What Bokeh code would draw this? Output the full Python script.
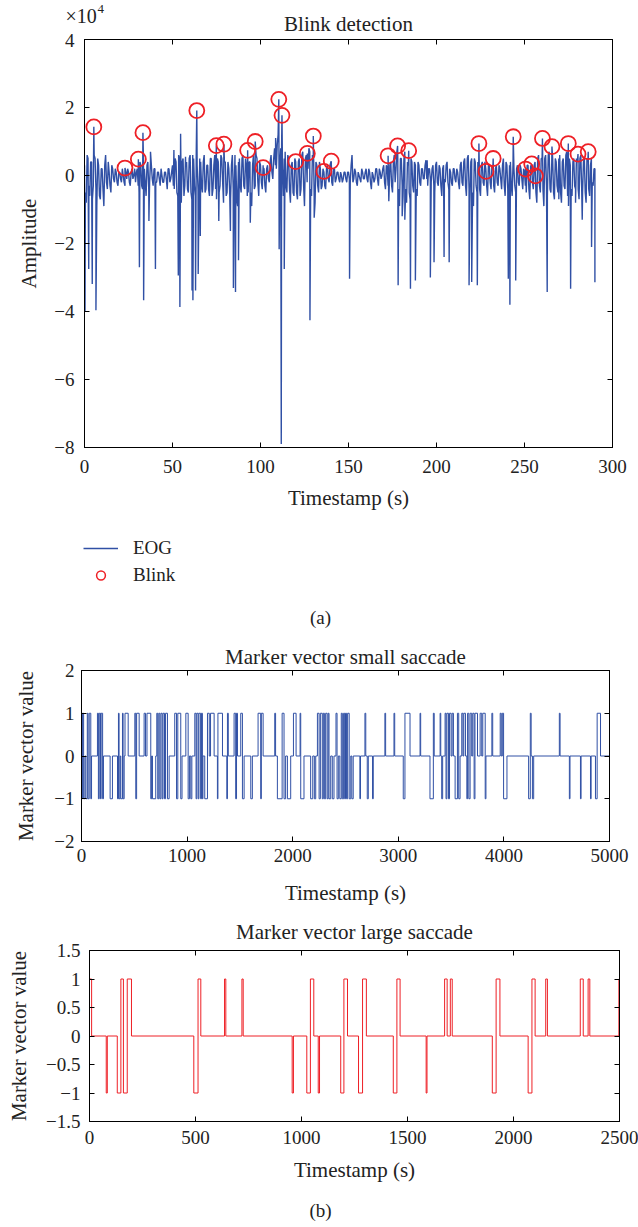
import numpy as np
from bokeh.plotting import figure
from bokeh.models import (Label, Legend, LegendItem, LinearAxis, FixedTicker,
                          Range1d, CustomJSTickFormatter)
from bokeh.layouts import column, row
from bokeh.embed import file_html
from bokeh.resources import INLINE

FONT = "Liberation Serif"
BLUE = "#3050A5"
RED = "#EE2026"
TXT = "#222222"
W = 638

# ---------------- (a) Blink detection (amplitude in units of 1e4) ----------------
# EOG read at whole seconds (t = 0 .. 290 s)
eog_base = [
    0.3, -0.8, 0.5, -0.6, 0.4, -0.3, 0.5, -0.9, 0.3, -0.7,
    0.2, -0.9, 0.6, -0.4, 0.1, -0.5, 0.2, -0.2, 0.1, -0.3,
    0.1, -0.2, 0.0, -0.3, -0.1, 0.1, -0.3, 0.2, 0.0, -0.2,
    0.2, -0.5, 0.3, -0.4, 0.2, -0.6, 0.4, -0.2, 0.3, -0.3,
    0.2, -0.2, 0.1, -0.3, 0.0, -0.2, 0.1, -0.4, 0.2, -0.1,
    0.3, -0.4, 0.4, -0.6, 0.5, -0.8, 0.5, -0.3, 0.4, -0.5,
    0.6, -0.7, 0.5, -0.6, 0.3, -0.9, 0.4, -0.5, 0.6, -0.4,
    0.3, -0.6, 0.5, -0.4, 0.6, -0.7, 0.4, -0.3, 0.5, -0.8,
    0.4, -0.5, 0.2, -0.7, 0.6, -0.6, 0.3, -0.9, 0.5, -0.5,
    0.6, -0.4, 0.3, -0.5, 0.4, -0.9, 0.6, -0.3, 0.5, -0.6,
    0.3, -0.4, 0.2, -0.5, 0.3, -0.2, 0.6, -0.1, 0.8, 0.2,
    1.2, 0.3, 0.9, -0.6, 0.7, -0.5, 0.5, -0.8, 0.4, -0.6,
    0.4, -0.7, 0.5, -0.4, 0.7, -0.9, 0.6, 0.2, 0.7, -0.6,
    0.5, -0.8, 0.3, -0.5, 0.2, -0.3, 0.1, -0.4, 0.3, -0.2,
    0.4, -0.3, 0.2, -0.1, 0.1, -0.2, 0.0, -0.1, 0.1, -0.2,
    0.1, -0.2, 0.6, -0.1, 0.1, -0.3, 0.0, -0.2, 0.1, -0.1,
    0.2, -0.2, 0.1, -0.4, 0.0, -0.1, 0.2, -0.3, 0.1, 0.0,
    0.3, -0.4, 0.2, -0.6, 0.4, -0.5, 0.6, 0.2, 0.5, -0.9,
    0.5, -0.6, 0.7, -0.8, 0.3, -0.7, 0.4, -0.5, 0.3, -0.6,
    0.3, -0.3, 0.2, -0.1, 0.45, -0.3, 0.2, -0.2, 0.3, -0.5,
    0.4, -0.3, 0.2, -0.6, 0.3, -0.2, 0.4, -0.4, 0.1, -0.3,
    0.2, -0.2, 0.1, -0.4, 0.4, -0.3, 0.5, -0.6, 0.6, -0.8,
    0.5, -0.9, 0.4, -0.5, 0.3, -0.6, 0.4, -0.3, 0.2, -0.6,
    0.3, -0.4, 0.2, -0.5, 0.3, -0.3, 0.2, -0.4, 0.5, -0.6,
    0.3, -0.7, 0.4, -0.6, 0.2, -0.5, 0.3, -0.3, 0.2, -0.4,
    0.1, -0.5, 0.3, -0.7, 0.2, -0.4, 0.4, -0.8, 0.6, -0.5,
    0.5, -0.9, 0.6, -0.6, 0.7, -0.5, 0.5, -0.7, 0.4, -0.5,
    0.6, -0.8, 0.5, -0.4, 0.7, -0.9, 0.3, -0.6, 0.5, -0.4,
    0.4, -0.7, 0.6, -0.5, 0.5, -0.8, 0.4, -0.6, 0.5, -0.3,
    0.2,
]
# EOG read at half seconds (t = 0.5 .. 289.5 s)
eog_mid = [
    -0.5, 0.6, -0.3, 0.4, -0.7, 0.6, -0.4, 0.5, -0.6, 0.2,
    -0.4, 0.3, -0.2, 0.4, -0.3, 0.3, -0.1, 0.2, -0.2, 0.1,
    -0.1, 0.2, -0.2, 0.1, 0.2, -0.2, 0.1, -0.1, 0.2, 0.1,
    -0.3, 0.4, -0.3, 0.5, -0.2, 0.3, -0.4, 0.4, -0.1, 0.2,
    -0.2, 0.1, -0.1, 0.2, -0.2, 0.1, -0.1, 0.2, -0.2, 0.1,
    -0.3, 0.5, -0.5, 0.6, -0.4, 0.4, -0.6, 0.3, -0.4, 0.5,
    -0.5, 0.6, -0.3, 0.7, -0.4, 0.5, -0.3, 0.4, -0.5, 0.3,
    -0.4, 0.5, -0.6, 0.3, -0.4, 0.5, -0.5, 0.6, -0.2, 0.4,
    -0.6, 0.4, -0.5, 0.3, -0.4, 0.6, -0.7, 0.4, -0.3, 0.5,
    -0.3, 0.5, -0.6, 0.4, -0.5, 0.3, -0.4, 0.6, -0.2, 0.4,
    -0.2, 0.3, -0.3, 0.2, -0.1, 0.4, 0.1, 0.5, 0.3, 0.9,
    0.4, 0.8, 0.2, 0.5, -0.3, 0.6, -0.4, 0.3, -0.5, 0.5,
    -0.5, 0.4, -0.6, 0.6, -0.3, 0.5, -0.2, 0.8, -0.4, 0.6,
    -0.6, 0.4, -0.3, 0.4, -0.4, 0.2, -0.3, 0.2, -0.1, 0.3,
    -0.2, 0.2, -0.2, 0.1, -0.1, 0.1, -0.2, 0.1, -0.1, 0.1,
    -0.1, 0.3, -0.2, 0.2, -0.2, 0.1, -0.1, 0.2, -0.1, 0.1,
    -0.1, 0.2, -0.2, 0.1, -0.2, 0.2, -0.1, 0.2, -0.1, 0.2,
    -0.2, 0.3, -0.3, 0.3, -0.3, 0.4, -0.2, 0.7, -0.4, 0.5,
    -0.3, 0.5, -0.4, 0.4, -0.5, 0.5, -0.3, 0.4, -0.4, 0.4,
    -0.2, 0.2, -0.1, 0.3, -0.1, 0.2, -0.1, 0.2, -0.3, 0.3,
    -0.2, 0.3, -0.3, 0.2, -0.1, 0.3, -0.2, 0.2, -0.2, 0.2,
    -0.1, 0.2, -0.2, 0.3, -0.2, 0.4, -0.3, 0.5, -0.4, 0.4,
    -0.5, 0.5, -0.3, 0.4, -0.4, 0.3, -0.2, 0.4, -0.3, 0.3,
    -0.2, 0.3, -0.3, 0.2, -0.2, 0.3, -0.1, 0.3, -0.3, 0.4,
    -0.4, 0.3, -0.3, 0.4, -0.3, 0.2, -0.2, 0.3, -0.1, 0.2,
    -0.3, 0.3, -0.4, 0.3, -0.2, 0.3, -0.5, 0.5, -0.3, 0.5,
    -0.4, 0.5, -0.3, 0.6, -0.4, 0.4, -0.5, 0.5, -0.3, 0.5,
    -0.5, 0.4, -0.3, 0.6, -0.6, 0.5, -0.4, 0.4, -0.3, 0.5,
    -0.4, 0.5, -0.4, 0.4, -0.5, 0.5, -0.4, 0.3, -0.2, 0.2,
]
# sharp excursions of the EOG (not blinks)
spike_t = [0.3, 2.4, 4.4, 6.5, 12.0, 31.2, 33.6, 36.6, 37.5, 40.3,
           50.8, 53.3, 54.2, 54.6, 57.4, 61.1, 61.6, 63.1, 64.6, 65.8,
           76.3, 82.9, 84.6, 85.8, 87.5, 94.2, 108.6, 110.6, 111.8, 113.5,
           128.1, 130.5, 150.6, 152.0, 172.9, 178.2, 180.5, 182.0, 185.2, 188.0,
           194.7, 196.5, 198.6, 204.3, 207.2, 218.5, 220.0, 223.2, 240.8, 241.7,
           245.0, 262.9, 269.5, 276.2, 279.0, 282.8, 288.1, 290.0]
spike_v = [-4.0, -2.75, -3.19, -3.96, 0.6, -2.7, -3.67, -1.34, 0.7, -2.75,
           0.75, -2.94, -3.87, 1.23, 0.55, -3.38, -3.67, -3.38, -2.9, -1.78,
           -1.34, -1.63, -3.31, -3.43, -2.49, -1.39, 1.1, -2.17, -7.9, -2.75,
           -4.26, -1.24, -3.04, 0.6, -0.76, -3.23, -1.2, -1.3, -3.33, -3.09,
           0.45, -3.0, -2.55, -2.4, -2.55, -3.23, -3.13, -3.23, -3.04, -3.8,
           -3.09, -3.43, -0.7, -3.33, -0.8, -1.3, -2.1, -3.14]
# detected blinks
blink_t = [5.3, 23.0, 30.6, 33.2, 63.8, 74.9, 79.2, 92.7, 97.0, 101.5,
           110.4, 112.2, 120.0, 126.6, 130.0, 136.0, 140.2, 172.5, 177.9, 184.2,
           224.1, 228.1, 232.2, 243.6, 250.6, 254.1, 256.2, 260.2, 265.6, 274.9,
           280.4, 286.2]
blink_v = [1.43, 0.22, 0.48, 1.26, 1.91, 0.88, 0.92, 0.74, 1.00, 0.23,
           2.24, 1.77, 0.41, 0.65, 1.16, 0.12, 0.42, 0.58, 0.87, 0.73,
           0.94, 0.12, 0.50, 1.14, 0.19, 0.34, -0.01, 1.09, 0.85, 0.94,
           0.63, 0.70]

a_xticks = [0, 50, 100, 150, 200, 250, 300]
a_yticks = [-8, -6, -4, -2, 0, 2, 4]

# ---------------- (b) Marker vectors (step change points) ----------------
small_t = [0, 9, 20, 32, 41, 55, 62, 73, 88, 95,
           151, 160, 168, 180, 186, 200, 208,
           271, 293, 341, 350, 356, 366, 372, 388, 394, 404,
           412, 442, 505, 514, 522, 546,
           593, 606, 620, 656, 664, 672, 703,
           713, 722, 732, 742, 752, 764, 772, 786, 796, 814, 830,
           883, 900, 912, 940, 952, 988, 1010, 1022, 1035, 1045,
           1073, 1085, 1092, 1105, 1112, 1128, 1136, 1145, 1150,
           1167, 1193, 1210, 1222, 1256, 1287, 1292, 1335,
           1376, 1382, 1390, 1445, 1460, 1468, 1477, 1508, 1524, 1540,
           1603, 1618, 1672, 1697, 1703, 1720, 1830, 1838, 1855, 1900, 1918, 1933, 1950, 1981,
           2007, 2032, 2070, 2076, 2107, 2170, 2190, 2205, 2218,
           2234, 2250, 2262, 2280, 2290, 2300, 2312, 2326, 2336, 2344, 2360, 2375, 2391,
           2410, 2420, 2432, 2446, 2460, 2470, 2482, 2492, 2500, 2510, 2520, 2535, 2550, 2560, 2573,
           2636, 2642, 2684, 2692, 2706, 2716, 2756, 2763, 2873, 2880, 2959, 2966,
           3047, 3063, 3111, 3206, 3212, 3300, 3332, 3340, 3396, 3402, 3411, 3420, 3443, 3452,
           3460, 3475, 3485, 3500, 3510, 3522, 3538, 3560, 3572, 3585,
           3601, 3612, 3620, 3636, 3649, 3656, 3668, 3680, 3695, 3705, 3718, 3726, 3750, 3775,
           3790, 3800, 3823, 3830,
           3886, 3894, 3965, 3975, 3985, 3997, 4029,
           4234, 4250, 4258, 4270, 4282, 4525, 4532, 4620, 4626, 4725, 4731, 4820, 4826, 4867,
           4883, 4915, 5000]
small_v = [-1, 1, -1, 0, -1, 1, -1, 1, -1, 0,
           1, -1, 1, -1, 1, -1, 0,
           -1, 0, -1, 1, -1, 0, -1, 1, -1, 0,
           1, 0, 1, -1, 1, 0,
           1, 0, 1, -1, 0, -1, 0,
           1, -1, 1, -1, 1, -1, 1, -1, 1, -1, 0,
           1, -1, 1, -1, 0, 1, -1, 0, -1, 0,
           1, -1, 1, -1, 1, -1, 1, -1, 0,
           -1, 1, 0, 1, 0, -1, 1, 0,
           -1, 1, 0, 1, -1, 1, 0, 1, -1, 0,
           -1, 0, 1, -1, 1, 0, 1, 0, -1, 1, -1, 0, -1, 0,
           1, 0, 1, -1, 0, -1, 0, -1, 0,
           1, -1, 1, -1, 1, -1, 1, -1, 1, -1, 0, -1, 0,
           1, -1, 0, -1, 1, -1, 1, -1, 1, -1, 1, -1, 0, -1, 0,
           -1, 0, 1, 0, -1, 0, -1, 0, 1, 0, 1, 0,
           -1, 1, 0, 1, 0, -1, 1, 0, 1, 0, -1, 0, 1, -1,
           1, -1, 1, 0, 1, 0, -1, 1, -1, 0,
           1, 0, 1, 0, -1, 1, -1, 1, 0, 1, -1, 1, 0, 1,
           0, 1, -1, 0,
           1, 0, 1, 0, 1, -1, 0,
           -1, 1, 0, -1, 0, 1, 0, -1, 0, -1, 0, -1, 0, -1,
           1, 0, 0]

large_t = [0, 10, 79, 84, 131, 148, 160, 178, 198, 492, 512, 525, 637, 643, 719, 725,
           956, 962, 1025, 1042, 1058, 1079, 1085, 1185, 1200, 1217, 1269, 1288, 1306,
           1433, 1450, 1465, 1588, 1592, 1675, 1687, 1702, 1711, 1900, 1918, 1936,
           2069, 2087, 2102, 2152, 2160, 2315, 2329, 2352, 2360, 2497, 2500]
large_v = [1, 0, -1, 0, -1, 1, -1, 1, 0, -1, 1, 0, 1, 0, 1, 0,
           -1, 0, -1, 1, 0, -1, 0, -1, 1, 0, -1, 1, 0,
           -1, 1, 0, -1, 0, 1, 0, 1, 0, -1, 1, 0,
           -1, 1, 0, 1, 0, 1, 0, 1, 0, 1, 1]

b1_xticks = [0, 1000, 2000, 3000, 4000, 5000]
b1_yticks = [-2, -1, 0, 1, 2]
b2_xticks = [0, 500, 1000, 1500, 2000, 2500]
b2_yticks = [-1.5, -1, -0.5, 0, 0.5, 1, 1.5]

MINUS_CODE = "return (tick < 0 ? '\u2212' : '') + String(Math.abs(tick));"


def make_fig(height, xr, yr, bl, br, bt, bb):
    p = figure(width=W, height=height, x_range=Range1d(*xr), y_range=Range1d(*yr),
               output_backend="svg", toolbar_location=None, title_location=None,
               min_border_left=bl, min_border_right=br,
               min_border_top=bt, min_border_bottom=bb)
    p.xgrid.visible = False
    p.ygrid.visible = False
    p.outline_line_color = "black"
    p.outline_line_width = 1
    return p


def text_fig(height):
    p = figure(width=W, height=height, x_range=Range1d(0, 1), y_range=Range1d(0, 1),
               output_backend="svg", toolbar_location=None, title_location=None,
               x_axis_location=None, y_axis_location=None,
               min_border_left=0, min_border_right=0, min_border_top=0, min_border_bottom=0)
    p.xgrid.visible = False
    p.ygrid.visible = False
    p.outline_line_color = None
    return p


def style_axes(p, xticks, yticks, xlabel, ylabel, x_ls, y_ls, x_as, y_as,
               top_label=None, top_standoff=0):
    for ax, ticks in ((p.xaxis[0], xticks), (p.yaxis[0], yticks)):
        ax.ticker = FixedTicker(ticks=ticks)
        ax.formatter = CustomJSTickFormatter(code=MINUS_CODE)
        ax.major_tick_in = 5
        ax.major_tick_out = 0
        ax.minor_tick_in = 0
        ax.minor_tick_out = 0
        ax.minor_tick_line_color = None
        ax.axis_line_color = "black"
        ax.major_tick_line_color = "black"
        ax.major_label_text_font = FONT
        ax.major_label_text_font_size = "19px"
        ax.major_label_text_color = TXT
        ax.axis_label_text_font = FONT
        ax.axis_label_text_font_size = "21px"
        ax.axis_label_text_font_style = "normal"
        ax.axis_label_text_color = TXT
    p.xaxis[0].axis_label = xlabel
    p.yaxis[0].axis_label = ylabel
    p.xaxis[0].major_label_standoff = x_ls
    p.yaxis[0].major_label_standoff = y_ls
    p.xaxis[0].axis_label_standoff = x_as
    p.yaxis[0].axis_label_standoff = y_as
    # mirrored inward ticks on the top and right sides (no tick labels);
    # the top one may carry the panel title as its axis label
    for side, ticks in (("above", xticks), ("right", yticks)):
        ax = LinearAxis(ticker=FixedTicker(ticks=ticks),
                        formatter=CustomJSTickFormatter(code="return '';"),
                        major_tick_in=5, major_tick_out=0, minor_tick_in=0, minor_tick_out=0,
                        major_label_standoff=0, major_label_text_font_size="0px",
                        minor_tick_line_color=None, axis_line_color="black",
                        major_tick_line_color="black")
        if side == "above" and top_label is not None:
            ax.axis_label = top_label
            ax.axis_label_standoff = top_standoff
            ax.axis_label_text_font = FONT
            ax.axis_label_text_font_size = "21px"
            ax.axis_label_text_font_style = "normal"
            ax.axis_label_text_color = TXT
        p.add_layout(ax, side)


def lab(p, x, y, text, size="21px", align="center"):
    p.add_layout(Label(x=x, y=y, x_units="screen", y_units="screen", text=text,
                       text_font=FONT, text_font_size=size, text_align=align,
                       text_baseline="middle", text_color=TXT))


# ---------- header (a) ----------
hA = text_fig(33)
lab(hA, 65, 18, "\u00d710", size="20px", align="left")
lab(hA, 97, 25, "4", size="13px", align="left")
lab(hA, 348, 10, "Blink detection")

# ---------- figure (a) ----------
all_t = np.concatenate([np.arange(len(eog_base), dtype=float),
                        np.arange(len(eog_mid), dtype=float) + 0.5, spike_t, blink_t])
all_v = np.concatenate([eog_base, eog_mid, spike_v, blink_v])
order = np.argsort(all_t, kind="stable")
eog_t = all_t[order]
eog_v = all_v[order]

pa = make_fig(479, (0, 300), (-8, 4), 84, 26, 6, 62)
style_axes(pa, a_xticks, a_yticks, "Timestamp (s)", "Amplitude", 12, 10, 10, 10)
pa.line(eog_t, eog_v, line_color=BLUE, line_width=1.4)
pa.scatter(blink_t, blink_v, marker="circle", size=15, fill_color=None,
           line_color=RED, line_width=1.8)

# ---------- legend + caption (a) ----------
lA = text_fig(128)
r_line = lA.line([np.nan], [np.nan], line_color=BLUE, line_width=1.5)
r_blink = lA.scatter([np.nan], [np.nan], marker="circle", size=13, fill_color=None,
                     line_color=RED, line_width=1.5)
leg = Legend(items=[LegendItem(label="EOG", renderers=[r_line]),
                    LegendItem(label="Blink", renderers=[r_blink])],
             location=(83, 54), orientation="vertical",
             label_text_font=FONT, label_text_font_size="19px", label_text_color=TXT,
             glyph_width=35, glyph_height=22, label_height=22, label_standoff=15,
             spacing=5, padding=0, margin=0, border_line_color=None,
             background_fill_alpha=0)
lA.add_layout(leg)
lab(lA, 320, 23, "(a)", size="19px")

# ---------- figure (b1) ----------
pb1 = make_fig(275, (0, 5000), (-2, 2), 81, 29, 30, 74)
style_axes(pb1, b1_xticks, b1_yticks, "Timestamp (s)", "Marker vector value", 7, 7, 16, 13,
           top_label="Marker vector small saccade", top_standoff=2)
pb1.step(small_t, small_v, mode="after", line_color=BLUE, line_width=1)

# ---------- figure (b2) ----------
pb2 = make_fig(270, (0, 2500), (-1.5, 1.5), 89, 19, 35, 64)
style_axes(pb2, b2_xticks, b2_yticks, "Timestamp (s)", "Marker vector value", 9, 9, 11, 12,
           top_label="Marker vector large saccade", top_standoff=7)
pb2.step(large_t, large_v, mode="after", line_color=RED, line_width=1)

# ---------- caption (b) ----------
fB = text_fig(42)
lab(fB, 320, 17, "(b)", size="19px")

layout = column([row(f, spacing=0) for f in (hA, pa, lA, pb1, pb2, fB)], spacing=0)
open("out.html", "w").write(file_html(layout, INLINE))
